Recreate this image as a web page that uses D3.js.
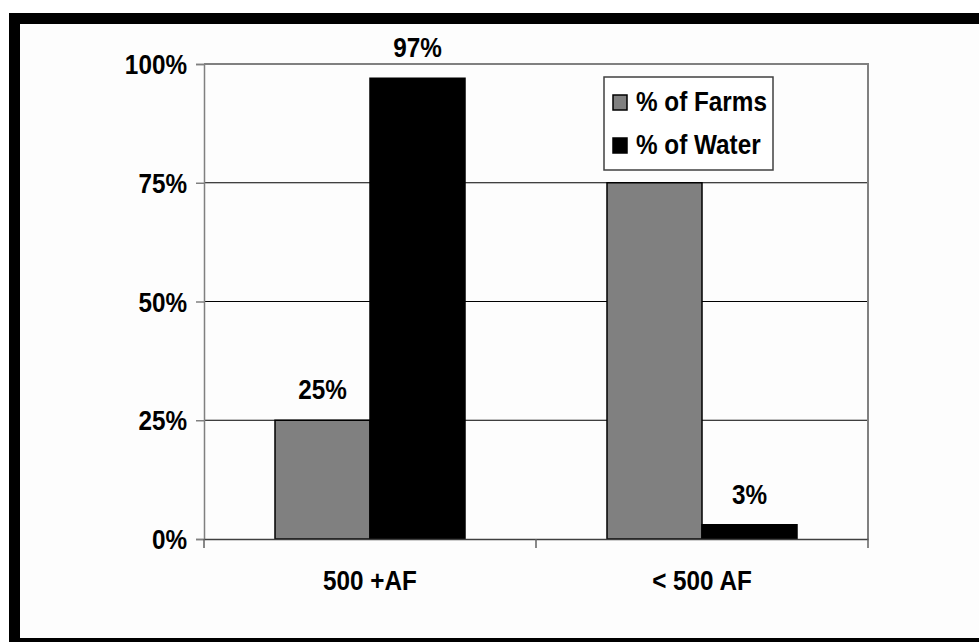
<!DOCTYPE html>
<html><head><meta charset="utf-8">
<script src="https://cdn.jsdelivr.net/npm/d3@7"></script>
<style>body{margin:0;background:#fff}svg{display:block}text{font-family:"Liberation Sans",Arial,sans-serif;font-weight:bold;fill:#000}</style>
</head><body>
<script>
const categories = ["500 +AF", "< 500 AF"];
const seriesNames = ["% of Farms", "% of Water"];
const farms = [25, 75];
const water = [97, 3];
const yTicks = [0, 25, 50, 75, 100];
const colors = ["#808080", "#000000"];

const W = 979, H = 642;
const svg = d3.select("body").append("svg").attr("width", W).attr("height", H);
const m = {l: 204, t: 64, r: 868, b: 539};
const sx = 0.9, fs = 27;

function txt(x, y, s, anchor) {
  return svg.append("text").attr("transform", `translate(${x},${y}) scale(${sx},1)`)
    .attr("text-anchor", anchor || "middle").attr("font-size", fs).text(s);
}

// frame
svg.append("rect").attr("x", 14.5).attr("y", 18.5).attr("width", 1000).attr("height", 625)
  .attr("fill", "#fdfdfd").attr("stroke", "#000").attr("stroke-width", 11);

const x0 = d3.scaleBand().domain(categories).range([m.l, m.r]).paddingInner(0).paddingOuter(0);
const innerPad = 71;
const x1 = d3.scaleBand().domain(seriesNames).range([0, x0.bandwidth() - 2 * innerPad]);
const y = d3.scaleLinear().domain([0, 100]).range([m.b, m.t]);

// gridlines
svg.append("g").selectAll("line").data(yTicks.filter(d => d > 0 && d < 100)).join("line")
  .attr("x1", m.l).attr("x2", m.r).attr("y1", d => y(d)).attr("y2", d => y(d))
  .attr("stroke", "#000").attr("stroke-width", 1);
// plot border top/right
svg.append("path").attr("d", `M${m.l},${y(100)}H${m.r}V${m.b}`).attr("fill", "none")
  .attr("stroke", "#808080").attr("stroke-width", 2);

// bars
const data = categories.map((c, i) => ({c, vals: [farms[i], water[i]]}));
const g = svg.append("g");
data.forEach(d => {
  d.vals.forEach((v, j) => {
    const bx = x0(d.c) + innerPad + x1(seriesNames[j]);
    g.append("rect").attr("x", bx).attr("y", y(v)).attr("width", x1.bandwidth())
      .attr("height", y(0) - y(v)).attr("fill", colors[j]).attr("stroke", "#000").attr("stroke-width", 1.5);
  });
});
// value labels (only shown for some)
const labelShown = [[true, true], [false, true]];
data.forEach((d, i) => {
  d.vals.forEach((v, j) => {
    if (!labelShown[i][j]) return;
    const cx = x0(d.c) + innerPad + x1(seriesNames[j]) + x1.bandwidth() / 2;
    txt(cx, y(v) - 21, v + "%");
  });
});

// y axis
const yAxis = svg.append("g").attr("transform", `translate(${m.l},0)`)
  .call(d3.axisLeft(y).tickValues(yTicks).tickSize(8).tickFormat(""));
yAxis.selectAll("path,line").attr("stroke", "#808080").attr("stroke-width", 1.5);
yTicks.forEach(t => txt(m.l - 17, y(t) + 10, t + "%", "end"));

// x axis
const xAxis = svg.append("g").attr("transform", `translate(0,${m.b})`)
  .call(d3.axisBottom(x0).tickSize(0).tickFormat(""));
xAxis.select("path").attr("stroke", "#404040").attr("stroke-width", 1.5);
const bTicks = [m.l, x0(categories[1]), m.r];
svg.append("g").selectAll("line").data(bTicks).join("line")
  .attr("x1", d => d).attr("x2", d => d).attr("y1", m.b).attr("y2", m.b + 9)
  .attr("stroke", "#606060").attr("stroke-width", 1.5);
categories.forEach(c => txt(x0(c) + x0.bandwidth() / 2, 590, c));

// legend
svg.append("rect").attr("x", 604).attr("y", 77).attr("width", 169).attr("height", 93)
  .attr("fill", "#fff").attr("stroke", "#404040").attr("stroke-width", 1.5);
seriesNames.forEach((s, j) => {
  const ly = [95, 138][j];
  svg.append("rect").attr("x", 613).attr("y", ly).attr("width", 14).attr("height", 15)
    .attr("fill", colors[j]).attr("stroke", "#000").attr("stroke-width", 1.5);
  txt(636, ly + 16, s, "start");
});
</script>
</body></html>
